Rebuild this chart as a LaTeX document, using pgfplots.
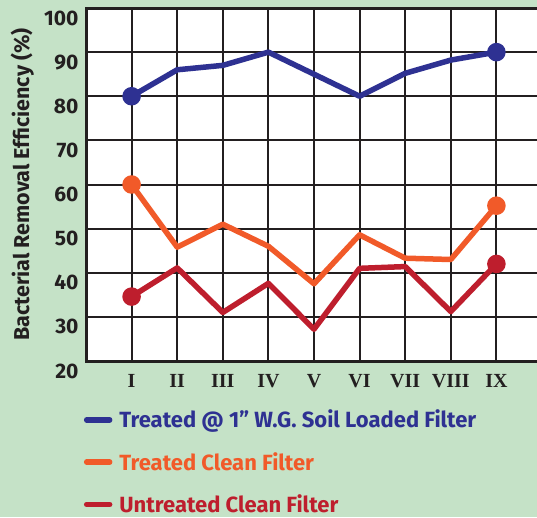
\documentclass[border=0pt]{standalone}
\usepackage{fontspec}
\setmainfont{Fira Sans}
\newfontfamily\serifb{Liberation Serif}
\usepackage{pgfplots}
\pgfplotsset{compat=1.18}
\definecolor{bg}{HTML}{C5E2C7}
\definecolor{cblue}{HTML}{2E3192}
\definecolor{corange}{HTML}{F15A29}
\definecolor{cred}{HTML}{BE1E2D}
\definecolor{gridc}{HTML}{231F20}
\begin{document}
\begin{tikzpicture}
\useasboundingbox (0,0) rectangle (537pt,517pt);
\fill[bg] (0,0) rectangle (537pt,517pt);
\begin{axis}[
 at={(86pt,156pt)}, anchor=south west,
 scale only axis, width=456pt, height=353pt,
 xmin=0, xmax=10, ymin=20, ymax=100,
 xtick={1,...,9}, xticklabels={I,II,III,IV,V,VI,VII,VIII,IX},
 ytick={20,30,...,100},
 grid=major,
 major grid style={line width=2pt, gridc},
 axis line style={line width=3pt, gridc},
 major tick length=0pt,
 axis background/.style={fill=white},
 /pgf/number format/assume math mode=true,
 yticklabel style={font=\bfseries\fontsize{21}{21}\selectfont, color=gridc, anchor=east, xshift=-4pt, yshift=-10pt},
 xticklabel style={font=\serifb\bfseries\fontsize{20}{20}\selectfont, color=gridc, anchor=north, yshift=-10pt},
 ylabel={Bacterial Removal Efficiency (\%)},
 ylabel style={font=\bfseries\fontsize{21.5}{21.5}\selectfont, color=gridc, at={(axis description cs:-0.140,0.5)}, anchor=center},
 legend style={at={(axis description cs:-0.005,-0.133)}, anchor=north west, draw=none, fill=none, legend cell align=left, row sep=19pt, font=\bfseries\fontsize{22}{22}\selectfont, inner sep=0pt, nodes={inner sep=2pt}},
 legend image code/.code={\draw[#1, mark=none, line cap=round] (0pt,0pt) -- (23pt,0pt); \path (28pt,0pt);},
 every axis plot/.append style={line width=5.5pt, line join=round, mark=*, mark size=6.5pt, mark indices={1,9}},
]
\addplot[cblue] coordinates {(1,80) (2,86) (3,87) (4,90) (5,85) (6,80) (7,85.2) (8,88.2) (9,90)};
\addlegendentry{\textcolor{cblue}{Treated @ 1” W.G. Soil Loaded Filter}}
\addplot[corange] coordinates {(1,60) (2,45.8) (3,51) (4,46) (5,37.5) (6,48.6) (7,43.3) (8,43) (9,55.2)};
\addlegendentry{\textcolor{corange}{Treated Clean Filter}}
\addplot[cred] coordinates {(1,34.6) (2,41.1) (3,31) (4,37.6) (5,27.2) (6,41) (7,41.4) (8,31.2) (9,42)};
\addlegendentry{\textcolor{cred}{Untreated Clean Filter}}
\end{axis}
\end{tikzpicture}
\end{document}
